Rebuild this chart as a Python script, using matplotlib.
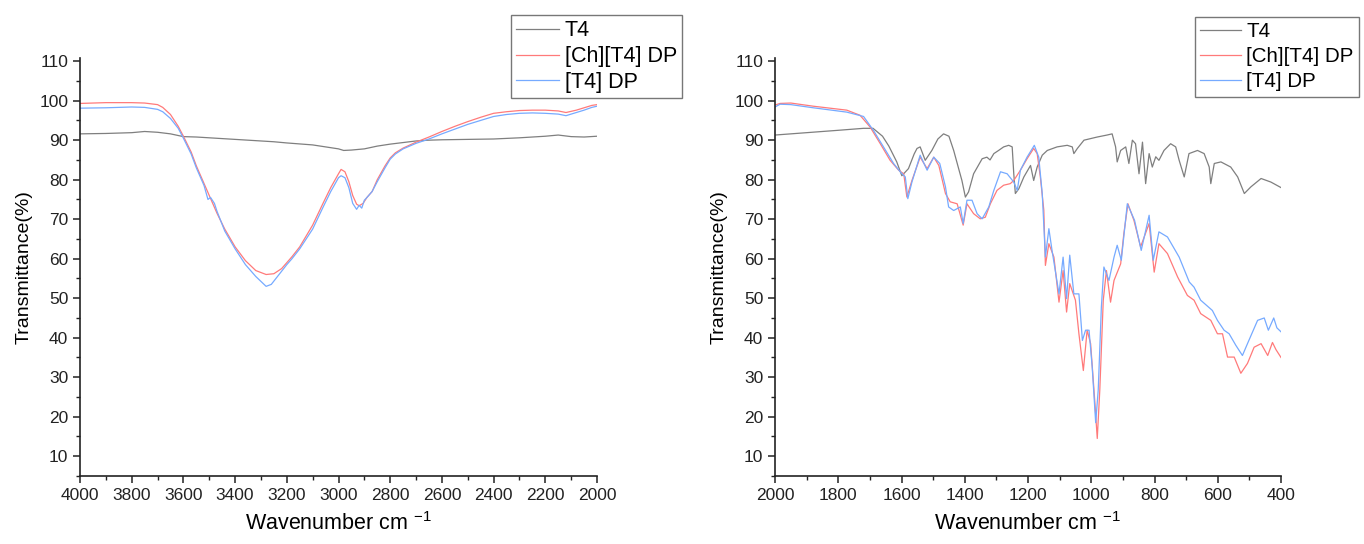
import matplotlib
matplotlib.use("Agg")
import matplotlib.pyplot as plt
from matplotlib.ticker import MultipleLocator

plt.rcParams['font.family'] = ['Liberation Sans', 'DejaVu Sans']
plt.rcParams['mathtext.default'] = 'regular'

# series names and colours
LABELS = ["T4", "[Ch][T4] DP", "[T4] DP"]
COLORS = ["#7f7f7f", "#ff7a7a", "#76aaff"]

# ---- left panel: 4000-2000 cm-1 ----
t4_left_w = [4000, 3900, 3800, 3750, 3700, 3650, 3600, 3550, 3500, 3400, 3300, 3250, 3200, 3100,
             3000, 2980, 2950, 2900, 2850, 2800, 2750, 2700, 2650, 2600, 2500, 2400, 2300, 2200,
             2150, 2100, 2050, 2000]
t4_left_t = [91.6, 91.7, 91.9, 92.2, 92.0, 91.6, 90.9, 90.8, 90.6, 90.2, 89.8, 89.6, 89.3, 88.8,
             87.8, 87.4, 87.5, 87.8, 88.5, 89.0, 89.4, 89.8, 90.0, 90.1, 90.2, 90.3, 90.6, 91.0,
             91.3, 90.9, 90.8, 91.0]

ch_left_w = [4000, 3900, 3800, 3750, 3700, 3680, 3650, 3620, 3600, 3570, 3550, 3520, 3500, 3470,
             3440, 3400, 3360, 3320, 3280, 3250, 3220, 3180, 3150, 3100, 3060, 3030, 3000, 2990,
             2975, 2960, 2945, 2930, 2920, 2905, 2890, 2870, 2850, 2820, 2800, 2780, 2750, 2700,
             2650, 2600, 2550, 2500, 2450, 2400, 2350, 2300, 2250, 2200, 2150, 2120, 2080, 2050,
             2020, 2000]
ch_left_t = [99.3, 99.5, 99.5, 99.4, 99.0, 98.3, 96.5, 93.5, 91.0, 87.0, 83.5, 79.0, 76.0, 71.5,
             67.5, 63.0, 59.5, 57.0, 56.0, 56.2, 57.5, 60.5, 63.0, 68.5, 74.0, 78.0, 81.5, 82.6,
             82.0, 79.5, 76.0, 73.8, 73.4, 74.0, 75.5, 77.0, 80.0, 83.5, 85.5, 86.8, 88.0, 89.5,
             90.8, 92.2, 93.5, 94.7, 95.8, 96.8, 97.2, 97.5, 97.6, 97.6, 97.4, 97.0, 97.6, 98.2,
             98.8, 99.0]

dp_left_w = [4000, 3900, 3800, 3750, 3700, 3680, 3650, 3620, 3600, 3570, 3550, 3520, 3505, 3495,
             3480, 3470, 3440, 3400, 3360, 3320, 3280, 3260, 3230, 3200, 3180, 3150, 3100, 3060,
             3030, 3000, 2990, 2975, 2960, 2945, 2930, 2920, 2910, 2900, 2890, 2870, 2850, 2820,
             2800, 2780, 2750, 2700, 2650, 2600, 2550, 2500, 2450, 2400, 2350, 2300, 2250, 2200,
             2150, 2120, 2080, 2050, 2020, 2000]
dp_left_t = [98.1, 98.2, 98.4, 98.3, 97.8, 97.2, 95.5, 93.0, 90.5, 86.5, 83.0, 78.5, 75.0, 75.5,
             74.0, 72.0, 67.0, 62.5, 58.5, 55.5, 53.0, 53.5, 56.0, 58.5, 60.0, 62.5, 67.5, 73.0,
             77.0, 80.5, 81.0, 80.5, 78.0, 74.0, 72.5, 73.5, 72.8, 74.8, 75.5, 77.0, 79.5, 83.0,
             85.2, 86.5, 87.8, 89.2, 90.3, 91.6, 92.8, 94.0, 95.0, 96.0, 96.5, 96.8, 96.9, 96.8,
             96.6, 96.2, 97.0, 97.6, 98.3, 98.6]

# ---- right panel: 2000-400 cm-1 ----
t4_right_w = [2000, 1900, 1800, 1720, 1690, 1660, 1640, 1615, 1599, 1578, 1560, 1551, 1541, 1525,
              1504, 1485, 1467, 1450, 1435, 1420, 1409, 1398, 1388, 1372, 1345, 1330, 1320, 1308,
              1293, 1277, 1261, 1250, 1245, 1240, 1229, 1213, 1192, 1182, 1171, 1155, 1139, 1108,
              1076, 1060, 1055, 1044, 1023, 981, 950, 934, 923, 918, 907, 891, 881, 870, 860, 849,
              838, 828, 817, 807, 796, 786, 770, 749, 733, 722, 706, 691, 664, 643, 627, 622, 611,
              590, 559, 537, 516, 495, 463, 432, 400]
t4_right_t = [91.3, 91.9, 92.5, 93.0, 93.0, 91.0, 88.5, 84.5, 81.0, 82.8, 86.5, 87.9, 88.3, 84.9,
              87.4, 90.3, 91.6, 91.0, 87.4, 83.0, 79.8, 75.6, 76.9, 81.5, 85.3, 85.7, 85.0, 86.6,
              87.4, 88.3, 88.7, 88.3, 81.5, 76.5, 77.7, 80.7, 83.6, 79.8, 83.2, 86.2, 87.4, 88.3,
              88.7, 88.3, 86.6, 87.9, 90.0, 90.8, 91.3, 91.6, 88.3, 84.5, 87.4, 88.3, 84.1, 90.0,
              89.1, 81.5, 89.5, 79.0, 86.6, 83.2, 85.8, 84.9, 87.4, 89.1, 88.3, 84.9, 80.7, 86.6,
              87.4, 86.6, 83.2, 79.0, 84.1, 84.5, 83.2, 80.7, 76.5, 78.2, 80.3, 79.4, 78.0]

ch_right_w = [2000, 1984, 1950, 1879, 1773, 1731, 1699, 1667, 1636, 1609, 1593, 1583, 1567, 1541,
              1519, 1498, 1482, 1461, 1446, 1424, 1405, 1393, 1372, 1351, 1335, 1319, 1298, 1277,
              1256, 1245, 1224, 1203, 1182, 1171, 1161, 1150, 1145, 1134, 1118, 1102, 1089, 1078,
              1068, 1050, 1039, 1025, 1013, 1002, 989, 981, 973, 962, 952, 939, 928, 907, 897, 884,
              865, 844, 817, 801, 786, 759, 727, 696, 675, 654, 622, 601, 585, 569, 548, 527, 506,
              485, 463, 442, 427, 416, 400]
ch_right_t = [98.9, 99.3, 99.4, 98.6, 97.6, 96.3, 93.3, 89.1, 84.9, 82.4, 81.5, 75.6, 79.8, 85.7,
              82.8, 85.7, 83.6, 76.5, 74.4, 73.9, 68.5, 73.9, 71.4, 70.1, 70.5, 73.9, 77.3, 78.6,
              79.0, 79.8, 82.4, 85.3, 87.9, 86.6, 80.7, 72.3, 58.3, 63.8, 60.4, 49.0, 57.0, 46.5,
              53.7, 49.5, 41.0, 31.7, 41.9, 38.5, 24.1, 14.5, 26.7, 49.5, 57.0, 49.0, 54.5, 58.7,
              66.3, 73.9, 69.7, 63.0, 68.9, 56.6, 63.8, 61.3, 55.4, 50.7, 49.5, 46.1, 44.4, 41.0,
              41.0, 35.1, 35.1, 31.0, 33.5, 37.6, 38.5, 35.5, 38.8, 37.0, 35.0]

dp_right_w = [2000, 1984, 1950, 1879, 1773, 1720, 1689, 1657, 1625, 1604, 1588, 1580, 1567, 1541,
              1519, 1498, 1479, 1461, 1451, 1435, 1414, 1405, 1393, 1377, 1361, 1345, 1324, 1308,
              1287, 1266, 1245, 1234, 1224, 1203, 1180, 1166, 1155, 1145, 1134, 1124, 1102, 1089,
              1078, 1068, 1055, 1039, 1028, 1018, 1007, 997, 986, 978, 968, 960, 944, 928, 918,
              905, 886, 863, 842, 817, 804, 786, 759, 722, 690, 675, 654, 617, 601, 580, 564, 543,
              522, 506, 474, 453, 440, 423, 413, 400]
dp_right_t = [98.4, 99.1, 99.0, 98.2, 97.1, 96.0, 92.5, 88.3, 84.1, 82.0, 80.7, 75.2, 79.4, 86.2,
              82.4, 85.7, 84.1, 78.2, 73.1, 72.2, 73.1, 68.9, 74.8, 74.8, 71.4, 70.1, 73.1, 77.3,
              82.0, 81.5, 79.4, 77.3, 82.4, 85.7, 88.7, 85.7, 76.5, 60.4, 67.6, 62.1, 51.1, 60.4,
              49.9, 60.9, 51.1, 51.1, 39.3, 41.9, 41.9, 32.6, 18.5, 26.7, 47.8, 57.9, 54.5, 60.4,
              63.4, 59.6, 73.9, 69.7, 62.1, 71.0, 59.6, 66.8, 65.5, 60.4, 54.1, 52.8, 49.5, 46.9,
              44.4, 41.9, 41.0, 38.1, 35.5, 38.5, 44.4, 45.0, 41.9, 45.0, 42.5, 41.5]

x_ticks_left = [4000, 3800, 3600, 3400, 3200, 3000, 2800, 2600, 2400, 2200, 2000]
x_ticks_right = [2000, 1800, 1600, 1400, 1200, 1000, 800, 600, 400]
y_ticks = [10, 20, 30, 40, 50, 60, 70, 80, 90, 100, 110]

fig = plt.figure(figsize=(13.64, 5.44), dpi=100)
ax1 = fig.add_axes([80 / 1364, 68 / 544, 517 / 1364, 418 / 544])
ax2 = fig.add_axes([775 / 1364, 68 / 544, 506 / 1364, 418 / 544])

panels = [
    (ax1, [(t4_left_w, t4_left_t), (ch_left_w, ch_left_t), (dp_left_w, dp_left_t)],
     (4000, 2000), x_ticks_left, (511 / 1364, 1 - 15 / 544), 15.5, 0.22),
    (ax2, [(t4_right_w, t4_right_t), (ch_right_w, ch_right_t), (dp_right_w, dp_right_t)],
     (2000, 400), x_ticks_right, (1195 / 1364, 1 - 17 / 544), 14.8, 0.3),
]

for ax, series, xlim, xt, leg_pos, leg_fs, leg_sp in panels:
    for (w, t), lab, col in zip(series, LABELS, COLORS):
        ax.plot(w, t, color=col, lw=0.9, label=lab)
    ax.set_xlim(*xlim)
    ax.set_ylim(5, 110.8)
    ax.set_xticks(xt)
    ax.set_yticks(y_ticks)
    ax.xaxis.set_minor_locator(MultipleLocator(100))
    ax.yaxis.set_minor_locator(MultipleLocator(5))
    ax.spines['top'].set_visible(False)
    ax.spines['right'].set_visible(False)
    for s in ['left', 'bottom']:
        ax.spines[s].set_linewidth(1.2)
        ax.spines[s].set_color('#222222')
    ax.tick_params(which='major', direction='out', length=5, width=1.1,
                   labelsize=12.5, colors='#222222')
    ax.tick_params(which='minor', direction='out', length=3, width=1.0, colors='#222222')
    ax.set_ylabel("Transmittance(%)", fontsize=14, labelpad=5)
    ax.set_xlabel("Wavenumber cm $^{-1}$", fontsize=15.5, labelpad=7)
    leg = ax.legend(loc='upper left', bbox_to_anchor=leg_pos, bbox_transform=fig.transFigure,
                    borderaxespad=0, fancybox=False, framealpha=1, edgecolor='#777777',
                    fontsize=leg_fs, handlelength=2.0, handletextpad=0.25, labelspacing=leg_sp,
                    borderpad=0.25)
    leg.get_frame().set_linewidth(1.0)

fig.savefig("out.png", dpi=100)
